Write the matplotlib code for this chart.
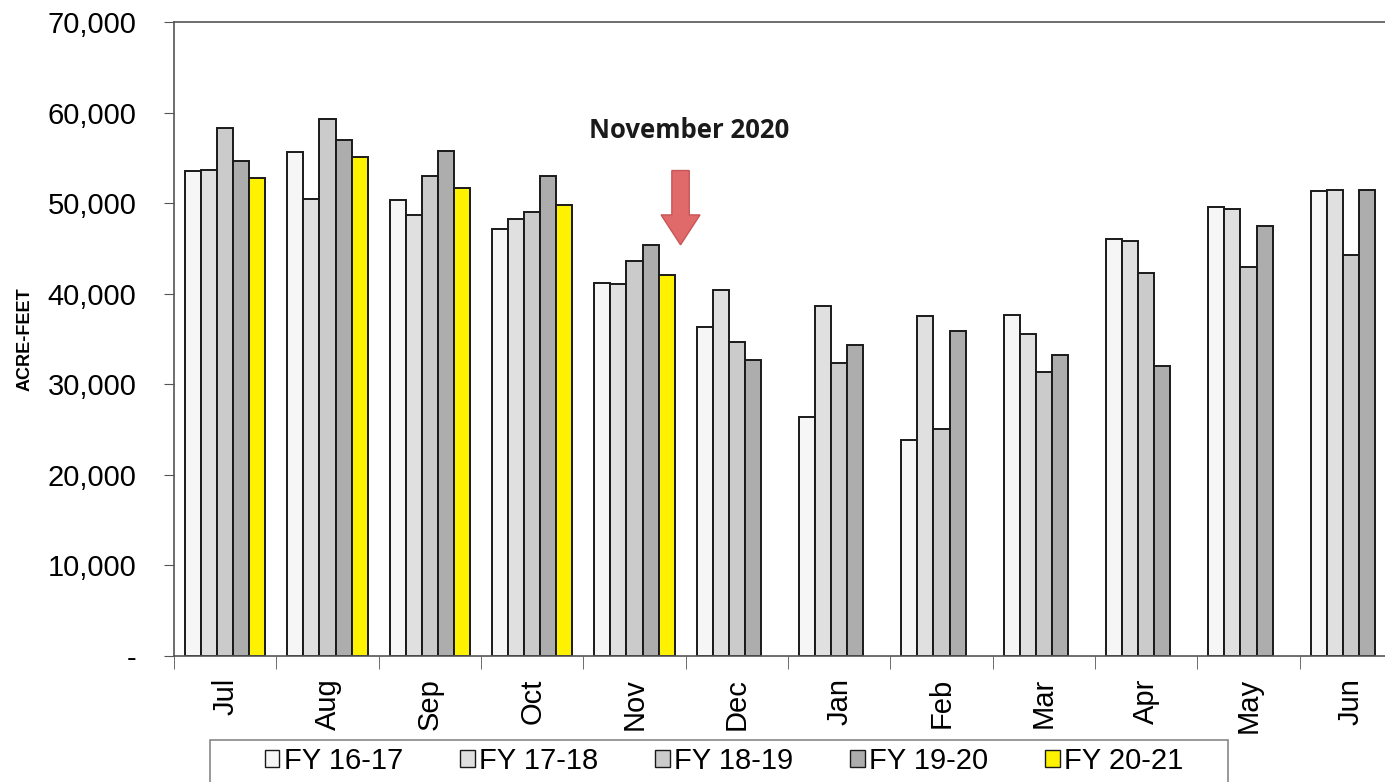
import numpy as np
import matplotlib.pyplot as plt
from matplotlib.patches import Rectangle
from matplotlib.ticker import FuncFormatter

months = ["Jul", "Aug", "Sep", "Oct", "Nov", "Dec", "Jan", "Feb", "Mar", "Apr", "May", "Jun"]
series_names = ["FY 16-17", "FY 17-18", "FY 18-19", "FY 19-20", "FY 20-21"]

fy1617 = [53500, 55700, 50400, 47100, 41200, 36300, 26400, 23800, 37700, 46000, 49600, 51300]
fy1718 = [53700, 50500, 48700, 48200, 41100, 40400, 38600, 37500, 35500, 45800, 49300, 51500]
fy1819 = [58300, 59300, 53000, 49000, 43600, 34700, 32400, 25100, 31400, 42300, 43000, 44300]
fy1920 = [54700, 57000, 55800, 53000, 45400, 32700, 34300, 35900, 33200, 32000, 47500, 51400]
fy2021 = [52800, 55100, 51700, 49800, 42100, np.nan, np.nan, np.nan, np.nan, np.nan, np.nan, np.nan]

colors = ["#f6f6f6", "#e0e0e0", "#cbcbcb", "#adadad", "#fff200"]
all_series = [fy1617, fy1718, fy1819, fy1920, fy2021]

plt.rcParams['font.family'] = ['Liberation Sans', 'DejaVu Sans']

fig = plt.figure(figsize=(13.85, 7.82), dpi=100)
ax = fig.add_axes([174 / 1385, 126 / 782, 1228 / 1385, 634 / 782])

x = np.arange(len(months))
w = 0.157
for i, (vals, c, name) in enumerate(zip(all_series, colors, series_names)):
    ax.bar(x + (i - 2) * w, vals, width=w, color=c, edgecolor="#1a1a1a",
           linewidth=1.4, label=name, zorder=2)

ax.set_xlim(-0.5, len(months) - 0.5)
ax.set_ylim(0, 70000)
ax.set_yticks(np.arange(0, 70001, 10000))
ax.yaxis.set_major_formatter(FuncFormatter(lambda v, p: "-" if v == 0 else f"{int(v):,}"))
ax.tick_params(axis="y", labelsize=21, length=7, pad=20, color="#555555")

ax.set_xticks(x)
ax.set_xticklabels(months, rotation=90, fontsize=21)
ax.set_xticks(np.arange(-0.5, len(months), 1), minor=True)
ax.tick_params(axis="x", which="major", length=0, pad=16)
ax.tick_params(axis="x", which="minor", length=9, color="#555555")

for s in ["left", "top", "bottom", "right"]:
    ax.spines[s].set_color("#555555")
    ax.spines[s].set_linewidth(1.2)

ax.set_ylabel("ACRE-FEET", fontsize=13, fontweight="bold")
ax.yaxis.set_label_coords(-0.114, 0.5)

# November marker
ax.arrow(4.45, 53600, 0, -4900, width=0.17, head_width=0.38, head_length=3300,
         length_includes_head=False, color="#e06a6a", ec="#c85555", lw=1, zorder=3)
ax.text(4.53, 58000, "November 2020", fontsize=18.5, fontweight="bold",
        family=["Open Sans", "DejaVu Sans"], ha="center", va="center", color="#1a1a1a")

# legend box, wider than its entries as in the original
fig.patches.append(Rectangle((210 / 1385, -0.05), 1018 / 1385, 0.05 + 42 / 782,
                             transform=fig.transFigure, facecolor="white",
                             edgecolor="#888888", linewidth=1.2, zorder=1))
leg = fig.legend(loc="upper center", bbox_to_anchor=(724 / 1385, 38 / 782), ncol=5,
                 fontsize=21, frameon=False, borderaxespad=0,
                 handlelength=0.5, handleheight=0.5, handletextpad=0.15,
                 columnspacing=1.95, borderpad=0.1)
for h in leg.legend_handles:
    h.set_linewidth(1.0)

fig.savefig("out.png", dpi=100)
